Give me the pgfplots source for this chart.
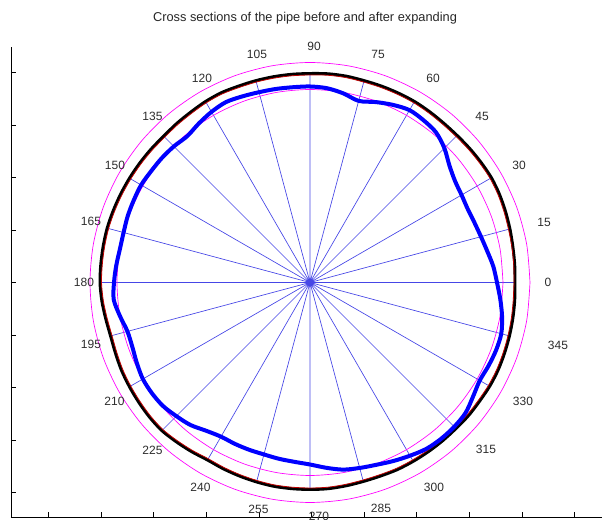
\documentclass[border=0pt]{standalone}
\usepackage{pgfplots}
\usepackage{pgfplotstable}
\pgfplotsset{compat=1.18}
\usepgfplotslibrary{polar}
\usepackage{fontspec}
\setmainfont{Liberation Sans}

\definecolor{spoke}{RGB}{70,70,230}
\definecolor{lab}{RGB}{45,45,45}
\definecolor{mag}{RGB}{255,0,255}
\definecolor{dred}{RGB}{190,0,0}

% angle (deg), radius of the before curve (black), its red trace, after curve (blue)
\pgfplotstableread{
a   k     r     b
0   205   204   187
5   205.5 204.5 184
10  206   205   180
15  207   205.5 177
20  208   206.5 175
25  209   207.5 174
30  209.5 208   175
35  209   207.5 177
40  208.5 207   182
45  208   206.5 190
50  208   206.5 196
55  208.5 207   198
60  209   207.5 199
65  209   207.5 196
70  209   207.5 192
75  209   207.5 188
80  209.5 208   192
85  209.5 208   195
90  209   207.5 196
95  209   207.5 196
100 209   207.5 196.5
105 209   207.5 197
110 209   207.5 198
115 209.5 208   199
120 209   207.5 197
125 208   206.5 194
130 207.5 206   191
135 207   205.5 192.5
140 207.5 206   193.5
145 208   206.5 194
150 208.5 207   195
155 209   207.5 194.5
160 209.5 208   194
165 210   208.5 193
170 210   208.5 193
175 210   208.5 194.5
180 210   208.5 196
185 209   207.5 197
190 207.5 206   193
195 206.5 205   189
200 207   205.5 189
205 208   206.5 191
210 208.5 207   193
215 209   207.5 193
220 209.5 208   192
225 209.5 208   189
230 208   206.5 186
235 206.5 205   181
240 205   203.5 178
245 205.5 204   178
250 206   204.5 178
255 206.5 205   178
260 207   205.5 179
265 207   205.5 180
270 207   205.5 182
275 207   205.5 186
280 206.5 205   190
285 206   204.5 192
290 206   204.5 194
295 206.5 205   197
300 206.5 205   200
305 206.5 205   203
310 206.5 205   204
315 206.5 205   204
320 207   205.5 203
325 207   205.5 199
330 207.5 206   196
335 207.5 206   197
340 207   205.5 198
345 206.5 205   198
350 206   204.5 195
355 205.5 204   191
360 205   204   187
}\pipe

% reference circles
\pgfplotstableread{
a   inner outer
0   193   220
10  193   220
20  193   220
30  193   220
40  193   220
50  193   220
60  193   220
70  193   220
80  193   220
90  193   220
100 193   220
110 193   220
120 193   220
130 193   220
140 193   220
150 193   220
160 193   220
170 193   220
180 193   220
190 193   220
200 193   220
210 193   220
220 193   220
230 193   220
240 193   220
250 193   220
260 193   220
270 193   220
280 193   220
290 193   220
300 193   220
310 193   220
320 193   220
330 193   220
340 193   220
350 193   220
360 193   220
}\circles

\begin{document}
\begin{tikzpicture}
\useasboundingbox (0,0) rectangle (451.5pt,390pt);
\begin{axis}[
    at={(8.25pt,1.875pt)}, anchor=south west,
    scale only axis, width=443.25pt, height=352.875pt,
    xmin=-299, xmax=292, ymin=-235, ymax=235.5,
    axis x line=bottom, axis y line=left,
    axis line style={-, black, line width=0.6pt},
    xtick={-261.5,-208.9,-156.3,-103.7,-51.1,1.5,54.1,106.7,159.3,211.9,264.5},
    ytick={-210,-157.5,-105,-52.5,0,52.5,105,157.5,210},
    xticklabels={}, yticklabels={},
    tick align=inside, major tick length=4pt,
    tick style={black, line width=0.5pt},
    clip=false,
    every axis plot/.append style={data cs=polar},
]
% spokes every 15 degrees, out to the before curve
\addplot[spoke, line width=0.5pt] coordinates {
(0,0) (0,205) (0,0) (15,207) (0,0) (30,209.5) (0,0) (45,208)
(0,0) (60,209) (0,0) (75,209) (0,0) (90,209) (0,0) (105,209)
(0,0) (120,209) (0,0) (135,207) (0,0) (150,208.5) (0,0) (165,210)
(0,0) (180,210) (0,0) (195,206.5) (0,0) (210,208.5) (0,0) (225,209.5)
(0,0) (240,205) (0,0) (255,206.5) (0,0) (270,207) (0,0) (285,206)
(0,0) (300,206.5) (0,0) (315,206.5) (0,0) (330,207.5) (0,0) (345,206.5)
};
\addplot[mag, line width=0.5pt, smooth] table[x=a, y=outer] {\circles};
\addplot[mag, line width=0.5pt, smooth] table[x=a, y=inner] {\circles};
\addplot[black, line width=2.2pt, smooth] table[x=a, y=k] {\pipe};
\addplot[dred, line width=0.6pt, smooth] table[x=a, y=r] {\pipe};
\addplot[blue, line width=3pt, smooth] table[x=a, y=b] {\pipe};

\begin{scope}[every node/.style={text=lab, font=\fontsize{9}{10}\selectfont}]
\node at (axis cs:238,0.5) {0};
\node at (axis cs:234,60.5) {15};
\node at (axis cs:209,117.5) {30};
\node at (axis cs:172,166) {45};
\node at (axis cs:123,204) {60};
\node at (axis cs:68,228) {75};
\node at (axis cs:4,236) {90};
\node at (axis cs:-53,228) {105};
\node at (axis cs:-108,204) {120};
\node at (axis cs:-157.5,166) {135};
\node at (axis cs:-195,117.5) {150};
\node at (axis cs:-219,61) {165};
\node at (axis cs:-226,0) {180};
\node at (axis cs:-219,-62) {195};
\node at (axis cs:-195.5,-118.5) {210};
\node at (axis cs:-157.5,-167.5) {225};
\node at (axis cs:-109.5,-205) {240};
\node at (axis cs:-51.5,-227) {255};
\node at (axis cs:9,-234) {270};
\node at (axis cs:71,-226) {285};
\node at (axis cs:124,-205) {300};
\node at (axis cs:176,-167) {315};
\node at (axis cs:213,-119) {330};
\node at (axis cs:248,-62.5) {345};
\end{scope}
\end{axis}
\node[font=\fontsize{9.6}{11}\selectfont, text=black!85] at (228.75pt,376.5pt)
  {Cross sections of the pipe before and after expanding};
\end{tikzpicture}
\end{document}
